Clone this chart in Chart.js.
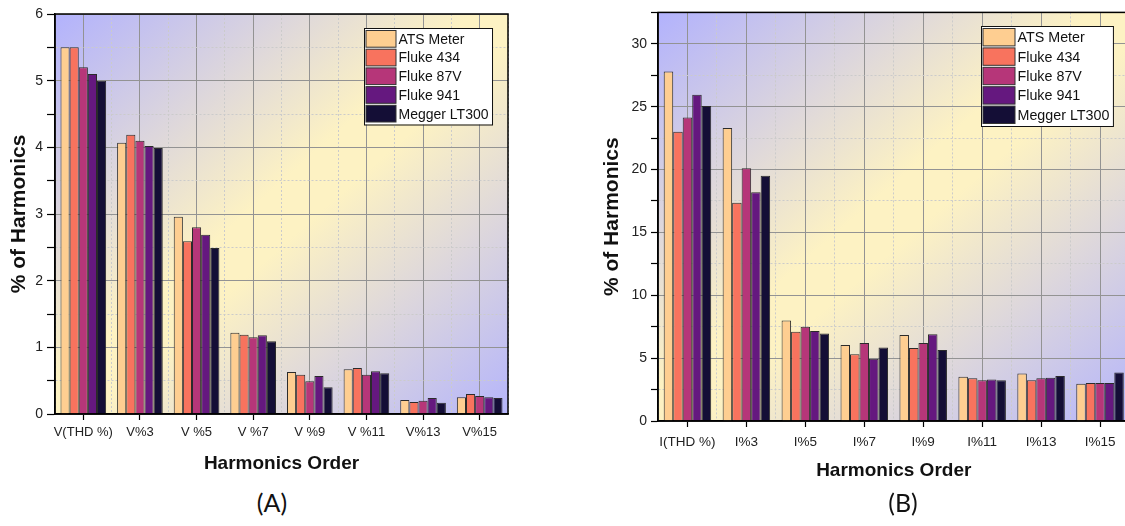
<!DOCTYPE html>
<html>
<head>
<meta charset="utf-8">
<title>Harmonics comparison</title>
<script src="https://cdn.jsdelivr.net/npm/chart.js@4.4.1/dist/chart.umd.min.js"></script>
<style>
  html, body { margin: 0; padding: 0; background: #fff; width: 1125px; height: 526px; overflow: hidden; }
  .panel { position: absolute; top: 0; }
  #panelA { left: 0; width: 560px; height: 480px; }
  #panelB { left: 580px; width: 560px; height: 490px; }
  .caption { position: absolute; top: 490px; font-family: Lato, "Open Sans", sans-serif; font-size: 25px; color: #111; transform: translateX(-50%); line-height: 1; }
</style>
</head>
<body>
<div class="panel" id="panelA"><canvas id="chartA" width="560" height="480"></canvas></div>
<div class="panel" id="panelB"><canvas id="chartB" width="560" height="490"></canvas></div>
<div class="caption" style="left:272px">(A)</div>
<div class="caption" style="left:903px">(B)</div>
<script>
// Instruments compared
const seriesNames = ['ATS Meter', 'Fluke 434', 'Fluke 87V', 'Fluke 941', 'Megger LT300'];
const seriesColors = ['#FECE91', '#F8735E', '#B63679', '#65187F', '#140E36'];

// Voltage harmonics (%)
const voltageOrders = ['V(THD %)', 'V%3', 'V %5', 'V %7', 'V %9', 'V %11', 'V%13', 'V%15'];
const voltageAts      = [5.50, 4.07, 2.96, 1.22, 0.63, 0.67, 0.21, 0.25];
const voltageFluke434 = [5.50, 4.19, 2.59, 1.19, 0.59, 0.69, 0.18, 0.30];
const voltageFluke87v = [5.20, 4.10, 2.80, 1.15, 0.49, 0.59, 0.20, 0.27];
const voltageFluke941 = [5.10, 4.02, 2.69, 1.18, 0.57, 0.64, 0.24, 0.25];
const voltageMegger   = [5.00, 3.99, 2.49, 1.09, 0.40, 0.61, 0.17, 0.24];

// Current harmonics (%)
const currentOrders = ['I(THD %)', 'I%3', 'I%5', 'I%7', 'I%9', 'I%11', 'I%13', 'I%15'];
const currentAts      = [27.80, 23.30, 8.00, 6.05, 6.85, 3.52, 3.78, 2.97];
const currentFluke434 = [23.00, 17.35, 7.10, 5.30, 5.80, 3.40, 3.25, 3.02];
const currentFluke87v = [24.15, 20.10, 7.50, 6.20, 6.20, 3.25, 3.40, 3.02];
const currentFluke941 = [25.95, 18.20, 7.15, 4.95, 6.90, 3.30, 3.45, 3.02];
const currentMegger   = [25.05, 19.50, 6.95, 5.85, 5.65, 3.25, 3.58, 3.85];

const FONT = '"Liberation Sans", Arial, sans-serif';

// Diagonal blue-yellow-blue fill behind the plot
const areaGradient = {
  id: 'areaGradient',
  beforeDraw(chart) {
    const { ctx, chartArea: { left, top, right, bottom } } = chart;
    const w = right - left, h = bottom - top;
    const k = 2 * w * h / (w * w + h * h);
    const g = ctx.createLinearGradient(left, top, left + h * k, top + w * k);
    g.addColorStop(0, '#B2B2FD');
    g.addColorStop(0.46, '#FDF2C3');
    g.addColorStop(0.54, '#FDF2C3');
    g.addColorStop(1, '#B5B5FB');
    ctx.save();
    ctx.fillStyle = g;
    ctx.fillRect(left, top, w, h);
    ctx.restore();
  }
};

// Closed frame round the plot and a boxed legend in its top-right corner
const framedLegend = {
  id: 'framedLegend',
  afterDraw(chart, args, opts) {
    const { ctx, chartArea } = chart;
    ctx.save();
    ctx.strokeStyle = '#000';
    ctx.lineWidth = 1.5;
    ctx.strokeRect(chartArea.left, chartArea.top, chartArea.right - chartArea.left, chartArea.bottom - chartArea.top);

    const ds = chart.data.datasets;
    ctx.font = opts.fontSize + 'px ' + FONT;
    const textW = Math.max(...ds.map(d => ctx.measureText(d.label).width));
    const w = opts.pad + opts.swatchW + opts.gap + textW + opts.pad + 2;
    const h = opts.pad * 2 + ds.length * opts.rowH;
    const x = Math.round(chartArea.right - opts.right - w);
    const y = Math.round(chartArea.top + opts.top);
    ctx.fillStyle = '#fff';
    ctx.fillRect(x, y, w, h);
    ctx.lineWidth = 1;
    ctx.strokeStyle = '#111';
    ctx.strokeRect(x + 0.5, y + 0.5, w, h);
    ds.forEach((d, i) => {
      const ry = y + opts.pad + i * opts.rowH;
      ctx.fillStyle = d.backgroundColor;
      ctx.fillRect(x + opts.pad + 0.5, ry + 1, opts.swatchW, opts.rowH - 2);
      ctx.strokeStyle = '#333';
      ctx.strokeRect(x + opts.pad + 0.5, ry + 1, opts.swatchW, opts.rowH - 2);
      ctx.fillStyle = '#111';
      ctx.textBaseline = 'middle';
      ctx.textAlign = 'left';
      ctx.fillText(d.label, x + opts.pad + opts.swatchW + opts.gap, ry + opts.rowH / 2 + 1);
    });
    ctx.restore();
  }
};

function buildChart(id, labels, values, cfg) {
  const datasets = seriesNames.map((name, i) => ({
    label: name,
    data: values[i],
    backgroundColor: seriesColors[i],
    borderColor: '#2b2b2b',
    borderWidth: 1,
    borderSkipped: 'bottom',
    categoryPercentage: 0.806,
    barPercentage: 1.0,
    xAxisID: 'x',
    yAxisID: 'y'
  }));
  return new Chart(document.getElementById(id), {
    type: 'bar',
    data: { labels, datasets },
    plugins: [areaGradient, framedLegend],
    options: {
      responsive: false,
      animation: false,
      layout: { padding: cfg.padding },
      plugins: {
        legend: { display: false },
        tooltip: { enabled: false },
        framedLegend: cfg.legend
      },
      scales: {
        x: {
          type: 'category',
          offset: true,
          grid: { offset: false, color: '#939393', lineWidth: 1, tickColor: '#000', tickLength: 6, tickWidth: 1.2 },
          border: { color: '#000', width: 1.5 },
          ticks: { font: { family: FONT, size: cfg.xTickSize }, color: '#222', padding: cfg.xTickPad, maxRotation: 0, autoSkip: false },
          title: {
            display: true, text: 'Harmonics Order', color: '#111',
            font: { family: FONT, size: 19, weight: 'bold' },
            padding: { top: 0, bottom: cfg.xTitlePad }
          },
          afterFit: s => { s.height = cfg.xHeight; }
        },
        x2: {
          type: 'category',
          position: 'bottom',
          offset: true,
          grid: { offset: true, color: '#cbcbcb', lineWidth: 1, drawTicks: false },
          border: { display: false, dash: [2, 2] },
          ticks: { display: false },
          afterFit: s => { s.height = 0; }
        },
        y: {
          min: 0,
          max: cfg.yMax,
          ticks: {
            stepSize: cfg.yStep,
            font: { family: FONT, size: 14 },
            color: '#222',
            padding: 4,
            callback: v => (Math.abs(v % cfg.yMajor) < 1e-9 ? v : '')
          },
          grid: {
            color: c => (c.tick && Math.abs(c.tick.value % cfg.yMajor) > 1e-9 ? '#cbcbcb' : '#939393'),
            lineWidth: 1, tickColor: '#000', tickLength: cfg.yTickLen, tickWidth: 1.2
          },
          border: {
            color: '#000', width: 1.5,
            dash: c => (c.tick && Math.abs(c.tick.value % cfg.yMajor) > 1e-9 ? [2, 2] : [])
          },
          title: {
            display: true, text: '% of Harmonics', color: '#111',
            font: { family: FONT, size: 21, weight: 'bold' },
            padding: { top: cfg.yTitlePad, bottom: 0 }
          },
          afterFit: s => { s.width = cfg.yWidth; }
        }
      }
    }
  });
}

buildChart('chartA', voltageOrders,
  [voltageAts, voltageFluke434, voltageFluke87v, voltageFluke941, voltageMegger],
  {
    padding: { left: 0, top: 14, right: 52, bottom: 0 },
    yWidth: 55, xHeight: 66, yMax: 6, yStep: 0.5, yMajor: 1, yTickLen: 8,
    xTickSize: 13, xTickPad: 5, xTitlePad: 5, yTitlePad: 6.5,
    legend: { fontSize: 14, pad: 1.5, swatchW: 30, gap: 3, rowH: 18.7, right: 16, top: 14 }
  });

buildChart('chartB', currentOrders,
  [currentAts, currentFluke434, currentFluke87v, currentFluke941, currentMegger],
  {
    padding: { left: 0, top: 5, right: 10.5, bottom: 0 },
    yWidth: 78, xHeight: 69, yMax: 32.5, yStep: 2.5, yMajor: 5, yTickLen: 7,
    xTickSize: 13.5, xTickPad: 7, xTitlePad: 8, yTitlePad: 20,
    legend: { fontSize: 14.3, pad: 1.5, swatchW: 32, gap: 3, rowH: 19.4, right: 16.5, top: 14 }
  });
</script>
</body>
</html>
